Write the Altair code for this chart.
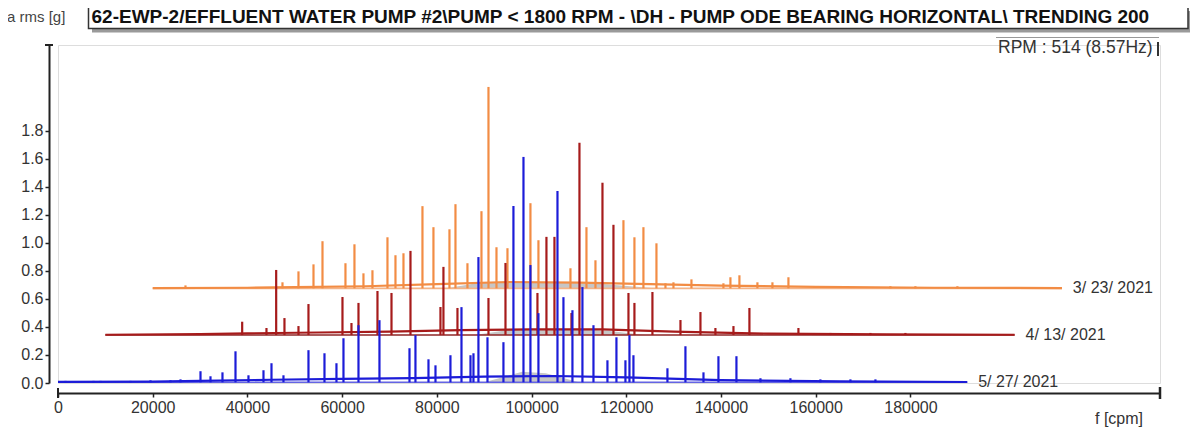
import altair as alt
import pandas as pd

# ---------------- data ----------------
dates = ["3/ 23/ 2021", "4/ 13/ 2021", "5/ 27/ 2021"]
shift_cpm = [20000, 10000, 0]        # waterfall offset along f
offset_g = [0.675, 0.342, 0.005]     # waterfall offset along amplitude
span_cpm = 192000                    # Fmax of each spectrum (3200 Hz)

orange_f = [6920, 27400, 30780, 33950, 35850, 40700, 42600, 44500, 46400, 49570,
            51260, 52950, 56960, 59280, 62660, 63930, 66460, 69420, 70900, 72590,
            74910, 79760, 81450, 88210, 91590, 93490, 99400, 101720, 103620, 106370,
            108270, 109960, 113760, 120510, 121990, 123890, 127690, 130860, 134240,
            155770, 161050, 169920]
orange_a = [0.021, 0.043, 0.121, 0.171, 0.336, 0.179, 0.314, 0.107, 0.129, 0.364,
            0.236, 0.25, 0.586, 0.436, 0.421, 0.6, 0.179, 0.55, 1.436, 0.293,
            0.286, 0.607, 0.343, 0.143, 0.436, 0.2, 0.486, 0.364, 0.436, 0.321,
            0.036, 0.043, 0.064, 0.036, 0.079, 0.093, 0.043, 0.043, 0.079,
            0.015, 0.015, 0.015]

red_f = [28890, 34020, 36070, 37820, 40780, 42890, 50070, 51970, 53450, 57460,
         60420, 64430, 70760, 71390, 74350, 80900, 84490, 91240, 93140, 94830,
         98420, 100110, 104970, 107290, 110460, 111720, 115520, 121440, 125660, 128820,
         132630, 136000, 146350, 153110, 161550, 168940]
red_a = [0.095, 0.05, 0.464, 0.121, 0.064, 0.221, 0.271, 0.086, 0.229, 0.314,
         0.3, 0.6, 0.2, 0.486, 0.193, 0.264, 0.514, 0.3, 0.7, 0.7,
         0.157, 1.371, 1.086, 0.786, 0.3, 0.229, 0.307, 0.107, 0.164, 0.05,
         0.064, 0.193, 0.05, 0.015, 0.015, 0.015]

blue_f = [1580, 7500, 8970, 15310, 19530, 23750, 25870, 30090, 32200, 34730,
          37480, 40220, 43390, 45080, 47610, 52890, 56270, 58800, 60280, 63450,
          67880, 74220, 75480, 78230, 79710, 82870, 85200, 87100, 87730, 88780,
          90690, 94060, 96170, 98290, 99760, 101450, 105470, 106730, 108630, 110740,
          113070, 116020, 117920, 119820, 120670, 121510, 128690, 132490, 136300, 139460,
          143260, 148330, 154660, 160990, 167330, 172610]
blue_a = [0.01, 0.01, 0.01, 0.01, 0.014, 0.014, 0.021, 0.079, 0.043, 0.071,
          0.221, 0.05, 0.086, 0.136, 0.05, 0.229, 0.207, 0.136, 0.314, 0.407,
          0.443, 0.243, 0.336, 0.164, 0.121, 0.193, 0.536, 0.193, 0.207, 0.893,
          0.321, 0.286, 1.257, 1.607, 0.836, 0.493, 1.364, 0.607, 0.514, 0.679,
          0.407, 0.157, 0.321, 0.157, 0.336, 0.193, 0.1, 0.257, 0.071, 0.186,
          0.186, 0.029, 0.029, 0.021, 0.021, 0.021]

# noise floor level (jagged line) of each spectrum
noise_f = [0, 20000, 30000, 45000, 60000, 75000, 90000, 105000, 120000, 140000, 165000, 192000]
noise_orange = [0.002, 0.004, 0.008, 0.015, 0.03, 0.045, 0.04, 0.03, 0.02, 0.01, 0.004, 0.002]
noise_red = [0.002, 0.006, 0.012, 0.018, 0.025, 0.035, 0.04, 0.04, 0.025, 0.01, 0.005, 0.002]
noise_blue = [0.003, 0.005, 0.01, 0.018, 0.025, 0.03, 0.04, 0.045, 0.035, 0.015, 0.006, 0.002]

# grey shaded hump under each spectrum
grey_orange_f = [62000, 70000, 80000, 95000, 106000]
grey_orange_h = [0, 0.045, 0.045, 0.03, 0]
grey_red_f = [78000, 86000, 96000, 106000, 114000]
grey_red_h = [0, 0.04, 0.045, 0.03, 0]
grey_blue_f = [90000, 98000, 103000, 110000]
grey_blue_h = [0, 0.075, 0.065, 0]

x_ticks = [0, 20000, 40000, 60000, 80000, 100000, 120000, 140000, 160000, 180000]
y_ticks = [0.0, 0.2, 0.4, 0.6, 0.8, 1.0, 1.2, 1.4, 1.6, 1.8]

title_text = ("62-EWP-2/EFFLUENT WATER PUMP #2\\PUMP < 1800 RPM - \\DH - "
              "PUMP ODE BEARING HORIZONTAL\\ TRENDING 200")
rpm_text = "RPM : 514 (8.57Hz)"
yunit_text = "a rms [g]"
xunit_text = "f [cpm]"

# ---------------- tables ----------------
peaks = [(orange_f, orange_a), (red_f, red_a), (blue_f, blue_a)]
noises = [noise_orange, noise_red, noise_blue]
greys = [(grey_orange_f, grey_orange_h), (grey_red_f, grey_red_h), (grey_blue_f, grey_blue_h)]

spk, nse, gry, bas, lab = [], [], [], [], []
for i, d in enumerate(dates):
    s, o = shift_cpm[i], offset_g[i]
    fs, am = peaks[i]
    spk.append(pd.DataFrame({"date": d, "f": [f + s for f in fs], "y0": o,
                             "y1": [a + o for a in am], "order": i}))
    nse.append(pd.DataFrame({"date": d, "f": [f + s for f in noise_f],
                             "y1": [a + o for a in noises[i]]}))
    gf, gh = greys[i]
    gry.append(pd.DataFrame({"date": d, "f": [f + s for f in gf], "y0": o,
                             "y1": [a + o for a in gh]}))
    bas.append({"date": d, "f": s, "f2": s + span_cpm, "y0": o})
    lab.append({"date": d, "f": s + span_cpm + 2300, "y0": o})

spikes_df = pd.concat(spk, ignore_index=True)
noise_df = pd.concat(nse, ignore_index=True)
grey_df = pd.concat(gry, ignore_index=True)
base_df = pd.DataFrame(bas)
label_df = pd.DataFrame(lab)

# ---------------- chart ----------------
FONT = "Liberation Sans"
xs = alt.Scale(domain=[0, 232700], nice=False, zero=False)
ys = alt.Scale(domain=[0, 2.41], nice=False, zero=True)
xaxis = alt.Axis(values=x_ticks, format="d", title=None, grid=False, offset=10,
                 tickSize=4, tickWidth=1.5, tickColor="#222", domainColor="#222",
                 domainWidth=2, labelFontSize=16, labelColor="#333", labelFont=FONT,
                 labelPadding=2, labelFlush=False, labelOverlap=False)
yaxis = alt.Axis(values=y_ticks, format=".1f", title=None, grid=False, offset=9,
                 tickSize=4, tickWidth=1.5, tickColor="#222", domainColor="#222",
                 domainWidth=2, labelFontSize=16, labelColor="#333", labelFont=FONT,
                 labelPadding=2, labelFlush=False, labelOverlap=False)

X = alt.X("f:Q", scale=xs, axis=xaxis)
Y = alt.Y("y1:Q", scale=ys, axis=yaxis)

strong = ["#F28C44", "#A61B1B", "#1C1CD8"]
light = ["#F4B387", "#8E2626", "#6464E4"]

grey_layer = alt.Chart(grey_df).mark_area(color="#c6c6c6").encode(
    x=X, y=Y, y2="y0:Q", detail="date:N")

base_layer = alt.Chart(base_df).mark_rule(strokeWidth=1.6).encode(
    x=X, x2="f2:Q", y=alt.Y("y0:Q", scale=ys, axis=yaxis),
    color=alt.Color("date:N", scale=alt.Scale(domain=dates, range=light), legend=None))

noise_layer = alt.Chart(noise_df).mark_line(strokeWidth=2.2).encode(
    x=X, y=Y,
    color=alt.Color("date:N", scale=alt.Scale(domain=dates, range=strong), legend=None))

spike_layer = alt.Chart(spikes_df).mark_rule(strokeWidth=2.2).encode(
    x=X, y=Y, y2="y0:Q",
    color=alt.Color("date:N", scale=alt.Scale(domain=dates, range=strong), legend=None),
    order="order:Q")

label_layer = alt.Chart(label_df).mark_text(
    align="left", baseline="middle", fontSize=16, font=FONT, color="#333").encode(
    x=X, y=alt.Y("y0:Q", scale=ys, axis=yaxis), text="date:N")

one = alt.Data(values=[{"k": 1}])


def deco_rule(x, x2, y, y2, color, w):
    return alt.Chart(one).mark_rule(color=color, strokeWidth=w).encode(
        x=alt.value(x), x2=alt.value(x2), y=alt.value(y), y2=alt.value(y2))


def deco_rect(x, x2, y, y2, fill, stroke=None, sw=0):
    kw = dict(fill=fill)
    if stroke:
        kw.update(stroke=stroke, strokeWidth=sw)
    return alt.Chart(one).mark_rect(**kw).encode(
        x=alt.value(x), x2=alt.value(x2), y=alt.value(y), y2=alt.value(y2))


def deco_text(x, y, txt, size, weight="normal", color="#333"):
    return alt.Chart(one).mark_text(text=txt, align="left", baseline="middle",
                                    fontSize=size, fontWeight=weight, font=FONT,
                                    color=color).encode(x=alt.value(x), y=alt.value(y))


decos = [
    deco_rect(34, 1132, -34, -12.5, "#9a9a9a"),
    deco_rect(30.5, 1130, -40, -16.5, "#ffffff", "#333", 1.5),
    deco_text(33.5, -28, title_text, 19, "bold", "#111"),
    deco_text(-51, -28, yunit_text, 15, "normal", "#444"),
    deco_rule(938, 1101, -7.5, -7.5, "#999", 1),
    deco_rule(1100, 1100, -3, 11, "#333", 2),
    deco_text(940, 3, rpm_text, 17.5, "normal", "#333"),
    deco_text(1037, 374, xunit_text, 16, "normal", "#333"),
    deco_rule(0, 0, 343, 353, "#222", 2),
    deco_rule(1102, 1102, 342, 354, "#222", 2.5),
    deco_rule(-13, -5, 0, 0, "#222", 2),
]

chart = alt.layer(grey_layer, base_layer, noise_layer, spike_layer, label_layer, *decos
                  ).resolve_scale(color="independent").properties(
    width=1102, height=338,
    autosize=alt.AutoSizeParams(type="none"),
    padding={"left": 50, "top": 37, "right": 34, "bottom": 47},
).configure_view(stroke=None).configure(font=FONT)

chart.save("out.html", embed_options={"renderer": "svg", "actions": False})
